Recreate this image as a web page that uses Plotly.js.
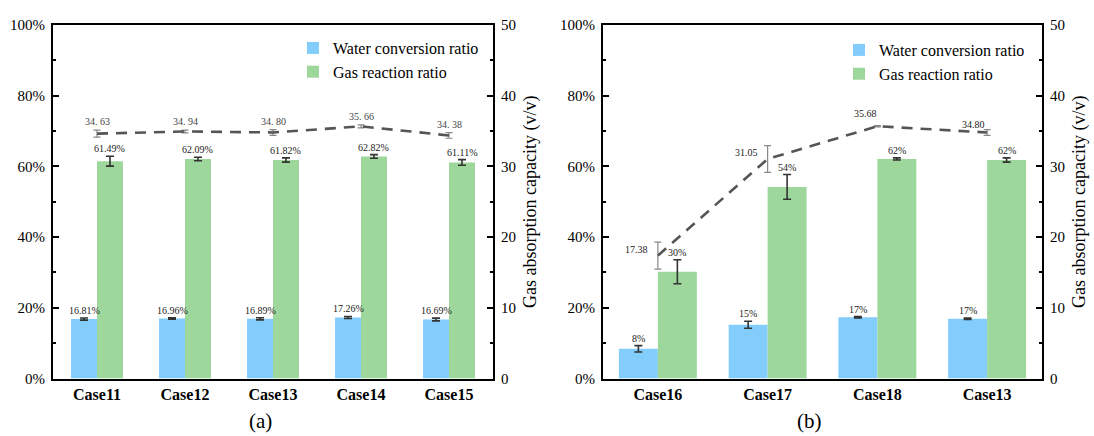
<!DOCTYPE html>
<html>
<head>
<meta charset="utf-8">
<script src="https://cdn.plot.ly/plotly-3.0.1.min.js"></script>
<style>html,body{margin:0;padding:0;background:#fff;}#chart{width:1094px;height:436px;}</style>
</head>
<body>
<div id="chart"></div>
<script>
// ---------- Panel (a) data ----------
const catsA = ['Case11', 'Case12', 'Case13', 'Case14', 'Case15'];
const waterA = [16.81, 16.96, 16.89, 17.26, 16.69];
const waterAErr = [0.3, 0.2, 0.3, 0.3, 0.4];
const waterALabels = ['16.81%', '16.96%', '16.89%', '17.26%', '16.69%'];
const gasA = [61.49, 62.09, 61.82, 62.82, 61.11];
const gasAErr = [1.4, 0.5, 0.6, 0.5, 0.8];
const gasALabels = ['61.49%', '62.09%', '61.82%', '62.82%', '61.11%'];
const capA = [34.63, 34.94, 34.80, 35.66, 34.38];
const capAErr = [0.5, 0.2, 0.4, 0.2, 0.4];
const capALabels = ['34. 63', '34. 94', '34. 80', '35. 66', '34. 38'];

// ---------- Panel (b) data ----------
const catsB = ['Case16', 'Case17', 'Case18', 'Case13'];
const waterB = [8.4, 15.2, 17.3, 16.89];
const waterBErr = [0.9, 1.0, 0.2, 0.2];
const waterBLabels = ['8%', '15%', '17%', '17%'];
const gasB = [30.2, 54.2, 62.1, 61.82];
const gasBErr = [3.4, 3.5, 0.3, 0.6];
const gasBLabels = ['30%', '54%', '62%', '62%'];
const capB = [17.38, 31.05, 35.68, 34.80];
const capBErr = [1.9, 1.9, 0.1, 0.4];
const capBLabels = ['17.38', '31.05', '35.68', '34.80'];

const seriesNames = ['Water conversion ratio', 'Gas reaction ratio'];

// ---------- styles ----------
const FONT = 'Times New Roman';
const BLUE = '#82CDFC';
const GREEN = '#9DD79C';
const LINE = '#555555';
const BW_A = 0.295, BW_B = 0.355;

function barTrace(name, cats, vals, errs, color, xa, ya, offset, width, legendName, showLeg, group) {
  return {
    type: 'bar', name: name, x: cats, y: vals, xaxis: xa, yaxis: ya,
    offset: offset, width: width,
    marker: {color: color, line: {width: 0}},
    error_y: {type: 'data', array: errs, visible: true, color: '#333', thickness: 1.6, width: 4},
    legend: legendName, showlegend: showLeg, legendgroup: group
  };
}
function lineTrace(cats, vals, errs, xa, ya) {
  return {
    type: 'scatter', mode: 'lines', x: cats, y: vals, xaxis: xa, yaxis: ya,
    line: {color: LINE, width: 2.6, dash: '11px,8px'},
    error_y: {type: 'data', array: errs, visible: true, color: '#888', thickness: 1.2, width: 3.5},
    showlegend: false, hoverinfo: 'skip'
  };
}

const data = [
  barTrace(seriesNames[0], catsA, waterA, waterAErr, BLUE, 'x', 'y', -BW_A, BW_A, 'legend', true, 'w'),
  barTrace(seriesNames[1], catsA, gasA, gasAErr, GREEN, 'x', 'y', 0, BW_A, 'legend', true, 'g'),
  lineTrace(catsA, capA, capAErr, 'x', 'y2'),
  barTrace(seriesNames[0], catsB, waterB, waterBErr, BLUE, 'x2', 'y3', -BW_B, BW_B, 'legend2', true, 'w'),
  barTrace(seriesNames[1], catsB, gasB, gasBErr, GREEN, 'x2', 'y3', 0, BW_B, 'legend2', true, 'g'),
  lineTrace(catsB, capB, capBErr, 'x2', 'y4')
];

// ---------- annotations (labels placed via data coordinates) ----------
const annotations = [];
const labFont = {family: FONT, size: 10, color: '#222'};
function barLabels(vals, errs, labels, xref, yref, off) {
  vals.forEach((v, i) => annotations.push({
    x: i + off, y: v + errs[i], xref: xref, yref: yref, text: labels[i],
    showarrow: false, yanchor: 'bottom', xanchor: 'center', yshift: 0, font: labFont
  }));
}
barLabels(waterA, waterAErr, waterALabels, 'x', 'y', -BW_A / 2);
barLabels(gasA, gasAErr, gasALabels, 'x', 'y', BW_A / 2);
barLabels(waterB, waterBErr, waterBLabels, 'x2', 'y3', -BW_B / 2);
barLabels(gasB, gasBErr, gasBLabels, 'x2', 'y3', BW_B / 2);

capA.forEach((v, i) => annotations.push({
  x: i, y: v + capAErr[i], xref: 'x', yref: 'y2', text: capALabels[i],
  showarrow: false, yanchor: 'bottom', xanchor: 'center', yshift: 1,
  font: {family: FONT, size: 10, color: '#444'}
}));
const capBShift = [[-8, 6, 'right', 'middle'], [-8, 6, 'right', 'middle'], [-12, 5, 'center', 'bottom'], [-14, 0, 'center', 'bottom']];
capB.forEach((v, i) => annotations.push({
  x: i, y: v, xref: 'x2', yref: 'y4', text: capBLabels[i],
  showarrow: false, xanchor: capBShift[i][2], yanchor: capBShift[i][3],
  xshift: capBShift[i][0], yshift: capBShift[i][1],
  font: {family: FONT, size: 10, color: '#222'}
}));
annotations.push({x: 260 / 1094, y: 15 / 436, xref: 'paper', yref: 'paper', text: '(a)', showarrow: false,
  xanchor: 'center', yanchor: 'middle', font: {family: FONT, size: 21, color: '#000'}});
annotations.push({x: 809 / 1094, y: 15 / 436, xref: 'paper', yref: 'paper', text: '(b)', showarrow: false,
  xanchor: 'center', yanchor: 'middle', font: {family: FONT, size: 21, color: '#000'}});

// ---------- axes ----------
const yDom = [(436 - 378.5) / 436, (436 - 25) / 436];
function xAxis(domain, anchor, n) {
  return {
    domain: domain, anchor: anchor, type: 'category', range: [-0.5, n - 0.5],
    showline: true, linewidth: 2, linecolor: '#000', mirror: true,
    ticks: '', showgrid: false, zeroline: false,
    tickfont: {family: FONT, size: 16, color: '#000', weight: 'bold'}
  };
}
function yLeft(anchor) {
  return {
    domain: yDom, anchor: anchor, range: [0, 100], dtick: 20, ticksuffix: '%',
    showline: true, linewidth: 2, linecolor: '#000', showgrid: false, zeroline: false,
    ticks: 'inside', ticklen: 6, tickwidth: 2, tickcolor: '#000',
    minor: {dtick: 10, ticks: 'inside', ticklen: 3, tickwidth: 2, tickcolor: '#000', showgrid: false},
    tickfont: {family: FONT, size: 15, color: '#000'}, ticklabelstandoff: 3
  };
}
function yRight(anchor, over) {
  return {
    domain: yDom, anchor: anchor, overlaying: over, side: 'right', range: [0, 50], dtick: 10,
    showline: true, linewidth: 2, linecolor: '#000', showgrid: false, zeroline: false,
    ticks: 'inside', ticklen: 6, tickwidth: 2, tickcolor: '#000',
    minor: {dtick: 5, ticks: 'inside', ticklen: 3, tickwidth: 2, tickcolor: '#000', showgrid: false},
    tickfont: {family: FONT, size: 15, color: '#000'}, ticklabelstandoff: 3,
    title: {text: 'Gas absorption capacity (v/v)', font: {family: FONT, size: 18, color: '#000'}, standoff: 8}
  };
}

const legendBase = {
  font: {family: FONT, size: 16, color: '#000'}, bgcolor: 'rgba(0,0,0,0)', borderwidth: 0,
  xanchor: 'left', yanchor: 'top', traceorder: 'grouped', tracegroupgap: 0
};

const layout = {
  width: 1094, height: 436,
  margin: {l: 0, r: 0, t: 0, b: 0},
  paper_bgcolor: '#fff', plot_bgcolor: 'rgba(0,0,0,0)',
  font: {family: FONT, color: '#000'},
  barmode: 'overlay',
  xaxis: xAxis([53 / 1094, 493 / 1094], 'y', catsA.length),
  yaxis: yLeft('x'),
  yaxis2: yRight('x', 'y'),
  xaxis2: xAxis([603 / 1094, 1042 / 1094], 'y3', catsB.length),
  yaxis3: yLeft('x2'),
  yaxis4: yRight('x2', 'y3'),
  legend: Object.assign({x: 293 / 1094, y: (436 - 31) / 436}, legendBase),
  legend2: Object.assign({x: 839 / 1094, y: (436 - 33) / 436}, legendBase),
  annotations: annotations
};

Plotly.newPlot('chart', data, layout, {displayModeBar: false, staticPlot: true});
</script>
</body>
</html>
